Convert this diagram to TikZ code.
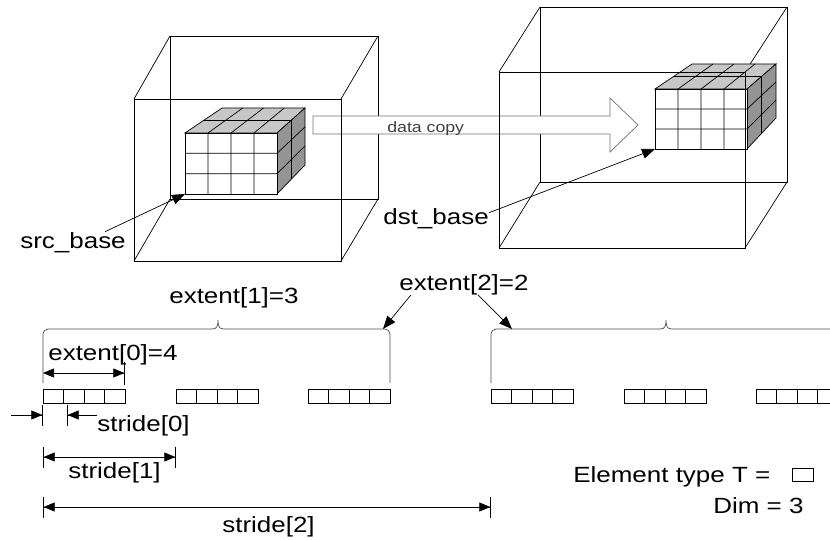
\documentclass[tikz,border=0pt]{standalone}
\usepackage{fontspec}
\setmainfont{Liberation Sans}[FakeStretch=1.18]
\usetikzlibrary{arrows.meta,calc,positioning}
\definecolor{topgray}{gray}{0.78}
\definecolor{sidegray}{gray}{0.58}
\definecolor{arrowgray}{gray}{0.45}

\begin{document}
\begin{tikzpicture}[x=1pt,y=-1pt,line width=0.7pt,
    txt/.style={anchor=base west,inner sep=0pt,font=\fontsize{22}{26}\selectfont},
    pointer/.style={-{Triangle[length=13pt,width=10pt]}},
    tip/.style={Triangle[length=11pt,width=9pt]},
    dimline/.style={{Bar[width=21pt]Triangle[length=11pt,width=9pt]}-{Triangle[length=11pt,width=9pt]Bar[width=21pt]}},
    brace/.style={draw=black!70,rounded corners=5pt}]
  \useasboundingbox (0,0) rectangle (830,540);

  % the back halves of the two boxes
  \draw (170,36) rectangle (378,199);
  \draw (170,36) -- (134,99) (378,36) -- (341,99) (378,199) -- (341,261) (170,199) -- (134,261);
  \draw (540,7) rectangle (787,182);
  \draw (540,7) -- (499,72) (787,7) -- (745,72) (787,182) -- (745,248) (540,182) -- (499,248);

  % the two blocks of data
  \foreach \fx/\fy/\gx/\gy/\bx/\by/\cx/\cy in {185/133/277/194/222/108/305/165, 655/89/747/149/692/64/776/118}
  {
    \coordinate (ftl) at (\fx,\fy);
    \coordinate (ftr) at (\gx,\fy);
    \coordinate (fbl) at (\fx,\gy);
    \coordinate (fbr) at (\gx,\gy);
    \coordinate (btl) at (\bx,\by);
    \coordinate (btr) at (\cx,\by);
    \coordinate (bbr) at (\cx,\cy);
    \filldraw[fill=topgray] (ftl) -- (ftr) -- (btr) -- (btl) -- cycle;
    \filldraw[fill=sidegray] (ftr) -- (btr) -- (bbr) -- (fbr) -- cycle;
    \filldraw[fill=white] (ftl) rectangle (fbr);
    \foreach \s in {0.25,0.5,0.75}
      \draw ($(fbl)!\s!(fbr)$) -- ($(ftl)!\s!(ftr)$) -- ($(btl)!\s!(btr)$);
    \foreach \s in {0.333,0.667}
      \draw ($(ftl)!\s!(fbl)$) -- ($(ftr)!\s!(fbr)$) -- ($(btr)!\s!(bbr)$);
    \draw ($(ftl)!.5!(btl)$) -- ($(ftr)!.5!(btr)$) -- ($(fbr)!.5!(bbr)$);
  }

  % the copy arrow
  \filldraw[fill=white,draw=arrowgray] (313,116) -- (610,116) -- (610,98) -- (638,125)
    -- (610,152) -- (610,134) -- (313,134) -- cycle;
  \node[anchor=base west,inner sep=0pt,font=\fontsize{15}{18}\selectfont,text=black!75] (copylabel) at (387,133) {data copy};

  % the front halves of the boxes
  \draw (134,99) rectangle (341,261);
  \draw (499,72) rectangle (745,248);

  % base pointers
  \node[txt] (srcbase) at (20,248) {src\_base};
  \coordinate (srccorner) at (185,194);
  \draw[pointer] ([xshift=32pt]srcbase.north) -- (srccorner);
  \node[txt] (dstbase) at (383,225) {dst\_base};
  \coordinate (dstcorner) at (655,149);
  \draw[pointer] ([yshift=-4pt]dstbase.north east) -- (dstcorner);

  % the elements in memory
  \foreach \g in {43,176,308,491,624,756}
    \foreach \k in {0,...,3}
      \draw ({\g+\k*20.5},389) rectangle ++(20.5,14);

  % the braces
  \draw[brace] (43,383) |- (212,329);
  \draw[draw=black!70] (212,329) .. controls (217,329) and (218,326) .. (218,320)
    .. controls (218,326) and (219,329) .. (224,329);
  \draw[brace] (224,329) -| (390,383);
  \draw[brace] (491,383) |- (660,329);
  \draw[draw=black!70] (660,329) .. controls (665,329) and (666,326) .. (666,320)
    .. controls (666,326) and (667,329) .. (672,329);
  \draw[brace] (672,329) -| (841,383);

  % extents
  \node[txt] (ext1) at (169,303) {extent[1]=3};
  \node[txt] (ext2) at (399,290) {extent[2]=2};
  \coordinate (brace1end) at (383,329);
  \coordinate (brace2start) at (512,329);
  \draw[pointer] ([xshift=-53pt]ext2.south) -- (brace1end);
  \draw[pointer] ([xshift=14pt]ext2.south) -- (brace2start);
  \node[txt] (ext0) at (48,360) {extent[0]=4};
  \coordinate (e0a) at (43,373);
  \coordinate (e0b) at (125,373);
  \draw[{Triangle[length=11pt,width=9pt]}-{Triangle[length=11pt,width=9pt]Bar[width=23pt]}] (e0a) -- (e0b);

  % strides
  \node[txt] (stride0) at (97,431) {stride[0]};
  \coordinate (s0left) at (11,415);
  \coordinate (s0a) at (43,415);
  \coordinate (s0b) at (67,415);
  \draw[-{Triangle[length=11pt,width=9pt]Bar[width=21pt]}] (s0left) -- (s0a);
  \draw[-{Triangle[length=11pt,width=9pt]Bar[width=21pt]}] (stride0.west |- s0b) -- (s0b);
  \node[txt] (stride1) at (68,478) {stride[1]};
  \coordinate (s1a) at (43,457);
  \coordinate (s1b) at (176,457);
  \draw[dimline] (s1a) -- (s1b);
  \node[txt] (stride2) at (222,532) {stride[2]};
  \coordinate (s2a) at (43,507);
  \coordinate (s2b) at (491,507);
  \draw[dimline] (s2a) -- (s2b);

  % legend
  \node[txt] (elemtype) at (573,482) {Element type T =};
  \node[draw,minimum width=21pt,minimum height=13pt,inner sep=0pt] (elembox) at (802.5,474.5) {};
  \node[txt] (dimtext) at (713,513) {Dim = 3};
\end{tikzpicture}
\end{document}
